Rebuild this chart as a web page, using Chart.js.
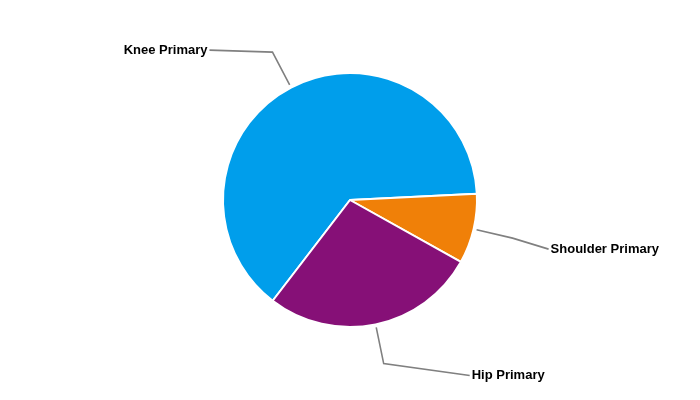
<!DOCTYPE html>
<html>
<head>
<meta charset="utf-8">
<script src="https://cdn.jsdelivr.net/npm/chart.js@4/dist/chart.umd.min.js"></script>
<style>
  html, body { margin: 0; padding: 0; background: #fff; }
  #wrap { width: 700px; height: 400px; }
</style>
</head>
<body>
<div id="wrap"><canvas id="pieChart"></canvas></div>
<script>
var categories = ['Knee Primary', 'Shoulder Primary', 'Hip Primary'];
var shares = [63.8, 8.9, 27.3];
var sliceColors = ['rgb(0,158,235)', 'rgb(240,128,8)', 'rgb(134,16,119)'];

// leader line label placement (offset from the elbow point, px)
var labelShift = [[-63, -2], [36, 11], [86, 12]];

var leaderLabels = {
    id: 'leaderLabels',
    afterDatasetsDraw: function(chart){
        var ctx = chart.ctx;
        var meta = chart.getDatasetMeta(0);
        ctx.save();
        ctx.font = 'bold 13px "Liberation Sans", Arial, sans-serif';
        ctx.textBaseline = 'middle';
        ctx.strokeStyle = 'rgb(128,128,128)';
        ctx.lineWidth = 1.6;
        meta.data.forEach(function(arc, i){
            var p = arc.getProps(['x','y','startAngle','endAngle','outerRadius'], true);
            var mid = (p.startAngle + p.endAngle) / 2;
            var r0 = p.outerRadius + 3, r1 = p.outerRadius + 40;
            var x0 = p.x + Math.cos(mid) * r0, y0 = p.y + Math.sin(mid) * r0;
            var x1 = p.x + Math.cos(mid) * r1, y1 = p.y + Math.sin(mid) * r1;
            var x2 = x1 + labelShift[i][0], y2 = y1 + labelShift[i][1];
            ctx.beginPath();
            ctx.moveTo(x0, y0);
            ctx.lineTo(x1, y1);
            ctx.lineTo(x2, y2);
            ctx.stroke();
            var right = x2 > x1;
            ctx.textAlign = right ? 'left' : 'right';
            ctx.fillStyle = '#000';
            ctx.fillText(categories[i], right ? x2 + 2 : x2 - 2, y2);
        });
        ctx.restore();
    }
};

new Chart(document.getElementById('pieChart').getContext('2d'), {
    type: 'pie',
    data: {
        labels: categories,
        datasets: [{
            data: shares,
            backgroundColor: sliceColors,
            borderColor: '#fff',
            borderWidth: 2
        }]
    },
    options: {
        responsive: true,
        maintainAspectRatio: false,
        animation: false,
        rotation: 217.5,
        layout: { padding: { top: 72, bottom: 72 } },
        plugins: {
            legend: { display: false },
            tooltip: { enabled: false }
        }
    },
    plugins: [leaderLabels]
});
</script>
</body>
</html>
